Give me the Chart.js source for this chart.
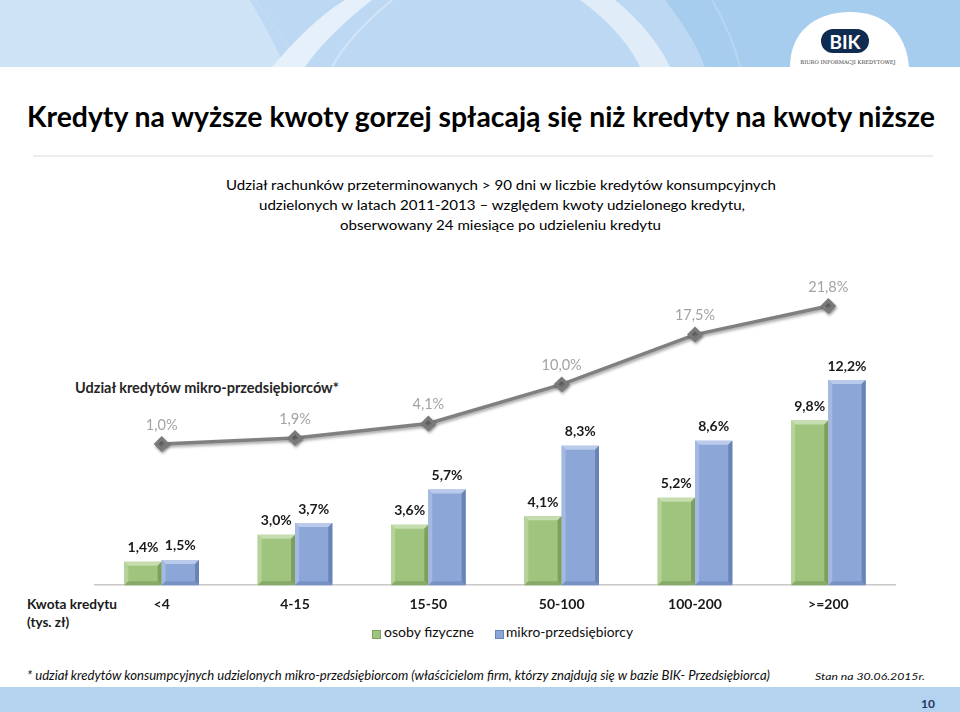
<!DOCTYPE html>
<html>
<head>
<meta charset="utf-8">
<script src="https://cdn.jsdelivr.net/npm/chart.js@4.4.0/dist/chart.umd.min.js"></script>
<style>
body { margin:0; }
#page { position:relative; width:960px; height:712px; overflow:hidden; background:#fff; font-family:Lato, sans-serif; }
#page canvas { position:absolute; left:0; top:0; }
.t { position:absolute; white-space:nowrap; line-height:1.2; transform-origin:0 0; color:#0d0d0d; }
</style>
</head>
<body>
<div id="page">
<svg width="960" height="67" style="position:absolute;left:0;top:0">
  <rect width="960" height="67" fill="#bcd8f2"/>
  <path d="M0 0 H250 C262 20 275 45 285 67 H0 Z" fill="#cfe3f6"/>
  <path d="M255 0 C270 22 290 45 300 67" stroke="#c2dbf2" stroke-width="2" fill="none"/>
  <path d="M345 0 L372 0 C340 25 318 48 305 67 L272 67 C295 40 320 15 345 0 Z" fill="#e6f0fa"/>
  <path d="M392 0 C362 25 342 48 332 67" stroke="#d3e5f6" stroke-width="2" fill="none"/>
  <path d="M580 0 L615 0 C640 20 660 45 670 67 L640 67 C630 45 608 20 580 0 Z" fill="#e0edf9"/>
  <path d="M665 0 L960 0 L960 67 L705 67 C695 40 680 20 665 0 Z" fill="#a7cdee"/>
  <path d="M712 0 C726 25 735 45 740 67" stroke="#b6d6f1" stroke-width="2" fill="none"/>
  <path d="M790 67 C790 32 815 12 850 12 C885 12 906 32 909 67 Z" fill="#fff"/>
  <circle cx="833" cy="41" r="12" fill="#0f2b4f"/>
  <circle cx="857" cy="41" r="12" fill="#0f2b4f"/>
  <rect x="833" y="29" width="24" height="24" fill="#0f2b4f"/>
  <text x="845" y="48.5" text-anchor="middle" font-family="Lato" font-weight="bold" font-size="19" fill="#fff">BIK</text>
  <text x="848" y="64" text-anchor="middle" font-family="DejaVu Serif" font-size="5.2" fill="#333">BIURO INFORMACJI KREDYTOWEJ</text>
</svg>

<div class="t" id="title" style="font-size:29px;font-weight:bold;color:#000;top:98.5px;left:27px">Kredyty na wyższe kwoty gorzej spłacają się niż kredyty na kwoty niższe</div>
<div style="position:absolute;left:33px;top:155px;width:900px;height:2px;background:#ececec"></div>

<div class="t" id="sub1" style="font-size:13.5px;color:#000;top:176.7px;left:226px">Udział rachunków przeterminowanych &gt; 90 dni w liczbie kredytów konsumpcyjnych</div>
<div class="t" id="sub2" style="font-size:13.5px;color:#000;top:196.7px;left:259px">udzielonych w latach 2011-2013 – względem kwoty udzielonego kredytu,</div>
<div class="t" id="sub3" style="font-size:13.5px;color:#000;top:216.7px;left:340px">obserwowany 24 miesiące po udzieleniu kredytu</div>

<div class="t" id="lineLbl" style="font-size:14.5px;font-weight:bold;color:#262626;top:379px;left:75px">Udział kredytów mikro-przedsiębiorców*</div>

<div class="t" id="kw1" style="font-size:13.5px;font-weight:bold;color:#1a1a1a;top:595.7px;left:27px">Kwota kredytu</div>
<div class="t" id="kw2" style="font-size:13.5px;font-weight:bold;color:#1a1a1a;top:613.7px;left:27px">(tys. zł)</div>

<div style="position:absolute;left:372px;top:630px;width:9px;height:9px;background:#9fc47e;border:1px solid #7fa35e;box-sizing:border-box"></div>
<div class="t" id="lg1" style="font-size:13px;top:625px;left:384px">osoby fizyczne</div>
<div style="position:absolute;left:495px;top:630px;width:9px;height:9px;background:#8ba6d7;border:1px solid #6a86b9;box-sizing:border-box"></div>
<div class="t" id="lg2" style="font-size:13px;top:625px;left:506px">mikro-przedsiębiorcy</div>

<div class="t" id="foot" style="font-size:13px;font-style:italic;top:668px;left:27px">* udział kredytów konsumpcyjnych udzielonych mikro-przedsiębiorcom (właścicielom firm, którzy znajdują się w bazie BIK- Przedsiębiorca)</div>
<div class="t" id="stan" style="font-size:10px;font-style:italic;top:670px;left:815px">Stan na 30.06.2015r.</div>

<div style="position:absolute;left:0;top:687px;width:960px;height:25px;background:#b3d3ef"></div>
<div class="t" style="font-size:12px;font-weight:bold;color:#1f3864;top:697px;left:921px">10</div>

<canvas id="myChart" width="960" height="712"></canvas>
</div>

<script>
const categories = ['<4', '4-15', '15-50', '50-100', '100-200', '>=200'];
const osobyFizyczne = [1.4, 3.0, 3.6, 4.1, 5.2, 9.8];
const mikroPrzedsiebiorcy = [1.5, 3.7, 5.7, 8.3, 8.6, 12.2];
const udzialMikro = [1.0, 1.9, 4.1, 10.0, 17.5, 21.8];

const bevelColors = {
    green: {top:'#c6ddb0', left:'#b4d299', right:'#7e9f5f', bottom:'#88aa69'},
    blue: {top:'#b9caea', left:'#a3b9e2', right:'#6983b6', bottom:'#7792c4'}
};

function pct(v) {
    return v.toFixed(1).replace('.', ',') + '%';
}

function poly(ctx, pts, color) {
    ctx.beginPath();
    ctx.moveTo(pts[0][0], pts[0][1]);
    for (var i = 1; i < pts.length; i++) ctx.lineTo(pts[i][0], pts[i][1]);
    ctx.closePath();
    ctx.fillStyle = color;
    ctx.fill();
}

const bevelPlugin = {
    id: 'bevel',
    afterDatasetsDraw(chart) {
        const ctx = chart.ctx;
        chart.data.datasets.forEach(function(ds, i) {
            if (ds.type !== 'bar') return;
            const c = bevelColors[ds.bevel];
            chart.getDatasetMeta(i).data.forEach(function(bar) {
                const p = bar.getProps(['x', 'y', 'base', 'width'], true);
                const l = p.x - p.width / 2, r = p.x + p.width / 2, t = p.y, b = p.base;
                const d = Math.min(4, (b - t) / 2);
                ctx.save();
                poly(ctx, [[l, t], [r, t], [r - d, t + d], [l + d, t + d]], c.top);
                poly(ctx, [[l, t], [l + d, t + d], [l + d, b - d], [l, b]], c.left);
                poly(ctx, [[r, t], [r, b], [r - d, b - d], [r - d, t + d]], c.right);
                poly(ctx, [[l, b], [l + d, b - d], [r - d, b - d], [r, b]], c.bottom);
                ctx.restore();
            });
        });
    }
};

const labelPlugin = {
    id: 'valueLabels',
    beforeDatasetDraw(chart, args) {
        if (chart.data.datasets[args.index].type === 'line') {
            chart.ctx.save();
            chart.ctx.shadowColor = 'rgba(0,0,0,0.35)';
            chart.ctx.shadowBlur = 3;
            chart.ctx.shadowOffsetX = 1;
            chart.ctx.shadowOffsetY = 2;
        }
    },
    afterDatasetDraw(chart, args) {
        if (chart.data.datasets[args.index].type === 'line') chart.ctx.restore();
    },
    afterDatasetsDraw(chart) {
        const ctx = chart.ctx;
        ctx.save();
        ctx.textAlign = 'center';
        ctx.textBaseline = 'middle';
        chart.data.datasets.forEach(function(ds, i) {
            const meta = chart.getDatasetMeta(i);
            meta.data.forEach(function(el, j) {
                if (ds.type === 'line') {
                    ctx.font = '14.5px Lato';
                    ctx.fillStyle = '#a3a3a3';
                    ctx.fillText(pct(ds.data[j]), el.x, el.y - 19);
                } else {
                    ctx.font = 'bold 14px Lato';
                    ctx.fillStyle = '#1a1a1a';
                    ctx.fillText(pct(ds.data[j]), el.x, el.y - 14);
                }
            });
        });
        ctx.restore();
    }
};

const ctx = document.getElementById('myChart').getContext('2d');

var chartData = {
    type: 'bar',
    data: {
        labels: categories,
        datasets: [{
            type: 'line',
            label: 'Udział kredytów mikro-przedsiębiorców',
            data: udzialMikro,
            yAxisID: 'y2',
            borderColor: '#808080',
            borderWidth: 3.5,
            pointStyle: 'rectRot',
            pointRadius: 5.5,
            pointBackgroundColor: '#7a7a7a',
            pointBorderColor: '#7a7a7a',
            tension: 0,
            order: 0
        }, {
            type: 'bar',
            label: 'osoby fizyczne',
            data: osobyFizyczne,
            yAxisID: 'y',
            backgroundColor: '#9fc47e',
            bevel: 'green',
            borderWidth: 0,
            categoryPercentage: 0.56,
            barPercentage: 1.0,
            order: 1
        }, {
            type: 'bar',
            label: 'mikro-przedsiębiorcy',
            data: mikroPrzedsiebiorcy,
            yAxisID: 'y',
            backgroundColor: '#8ba6d7',
            bevel: 'blue',
            borderWidth: 0,
            categoryPercentage: 0.56,
            barPercentage: 1.0,
            order: 1
        }]
    },
    options: {
        responsive: false,
        animation: false,
        layout: { padding: { left: 95, right: 65, top: 290, bottom: 88 } },
        plugins: { legend: { display: false }, tooltip: { enabled: false } },
        scales: {
            x: {
                grid: { display: false, drawTicks: false },
                border: { display: true, color: '#c8c8c8', width: 1.5 },
                ticks: { color: '#1a1a1a', font: { family: 'Lato', size: 14, weight: 'bold' }, padding: 11, maxRotation: 0 }
            },
            y: { display: false, min: 0, max: 17.56 },
            y2: { display: false, min: -20.27, max: 24.22 }
        }
    },
    plugins: [bevelPlugin, labelPlugin]
};

function fitText(id, width) {
    var el = document.getElementById(id);
    var w = el.getBoundingClientRect().width;
    el.style.transform = 'scaleX(' + (width / w) + ')';
}

document.fonts.ready.then(function() {
    fitText('title', 908);
    fitText('sub1', 550);
    fitText('sub2', 486);
    fitText('sub3', 321);
    fitText('kw1', 90);
    fitText('lg1', 90);
    fitText('lg2', 127);
    fitText('foot', 743);
    fitText('stan', 110);
    var myChart = new Chart(ctx, chartData);
});
</script>
</body>
</html>
